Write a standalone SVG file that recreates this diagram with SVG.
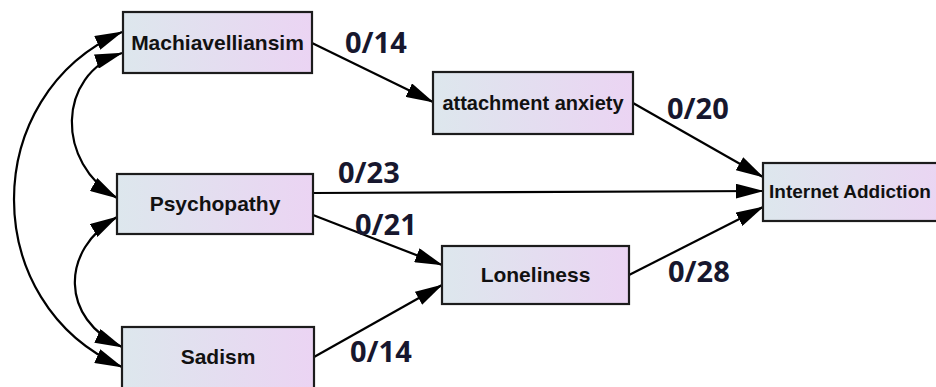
<svg xmlns="http://www.w3.org/2000/svg" width="936" height="387" viewBox="0 0 936 387">
<defs>
<linearGradient id="boxFill" x1="0" y1="0" x2="1" y2="0">
<stop offset="0" stop-color="#dde7ed"/>
<stop offset="1" stop-color="#ebd4f3"/>
</linearGradient>
<marker id="arrow" markerUnits="userSpaceOnUse" markerWidth="28" markerHeight="15" refX="27" refY="7.5" orient="auto-start-reverse" viewBox="0 0 28 15">
<path d="M0,0 L28,7.5 L0,15 Z" fill="#000"/>
</marker>
<style>
.box{fill:url(#boxFill);stroke:#1c1c1c;stroke-width:2.2}
.name{font-family:"Liberation Sans",Arial,sans-serif;font-weight:bold;font-size:21px;fill:#111;text-anchor:middle}
.edge{fill:none;stroke:#000;stroke-width:2.2;marker-end:url(#arrow)}
.cov{fill:none;stroke:#000;stroke-width:2.2;marker-start:url(#arrow);marker-end:url(#arrow)}
.coef{font-family:"Open Sans","Noto Sans",sans-serif;font-weight:bold;font-size:29px;fill:#17172e}
</style>
</defs>
<rect width="936" height="387" fill="#fff"/>
<g id="connectors">
<path class="edge" d="M312,43 L433,102"/>
<path class="edge" d="M633,103 L763,177"/>
<path class="edge" d="M313,193 L763,191"/>
<path class="edge" d="M313,215 L442,265"/>
<path class="edge" d="M314,357 L442,285"/>
<path class="edge" d="M629,275 L763,207"/>
<path class="cov" d="M122,53 C56,75 56,163 117,198"/>
<path class="cov" d="M117,217 C60,250 60,319 122,347"/>
<path class="cov" d="M122,32 C-22,95 -22,304 122,367"/>
<text class="coef" x="345" y="53">0/14</text>
<text class="coef" x="667" y="119">0/20</text>
<text class="coef" x="338" y="183">0/23</text>
<text class="coef" x="355" y="235">0/21</text>
<text class="coef" x="350" y="362">0/14</text>
<text class="coef" x="668" y="282">0/28</text>
</g>
<g id="machiavelliansim">
<rect class="box" x="123" y="12" width="189" height="61"/>
<text class="name" x="217.5" y="50">Machiavelliansim</text>
</g>
<g id="attachment-anxiety">
<rect class="box" x="433" y="72" width="200" height="62"/>
<text class="name" x="533" y="110" style="font-size:20px">attachment anxiety</text>
</g>
<g id="psychopathy">
<rect class="box" x="117" y="174" width="196" height="60"/>
<text class="name" x="215" y="211">Psychopathy</text>
</g>
<g id="loneliness">
<rect class="box" x="442" y="246" width="187" height="58"/>
<text class="name" x="535.5" y="282">Loneliness</text>
</g>
<g id="sadism">
<rect class="box" x="122" y="327" width="192" height="62"/>
<text class="name" x="218" y="364">Sadism</text>
</g>
<g id="internet-addiction">
<rect class="box" x="763" y="163" width="190" height="58"/>
<text class="name" x="769" y="198" style="font-size:19px;text-anchor:start">Internet Addiction</text>
</g>
</svg>
